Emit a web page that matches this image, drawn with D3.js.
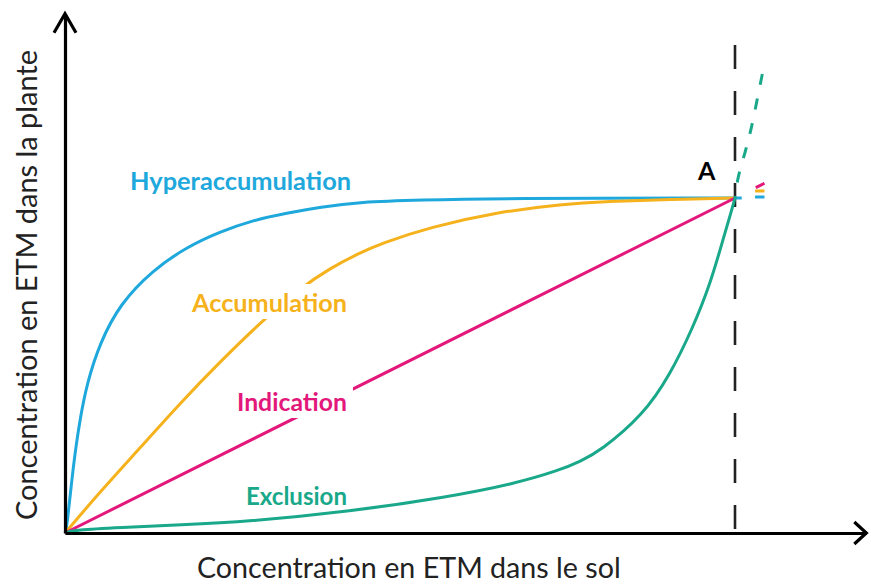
<!DOCTYPE html>
<html>
<head>
<meta charset="utf-8">
<script src="https://cdn.jsdelivr.net/npm/d3@7"></script>
<style>
  body { margin: 0; background: #fff; }
  svg { display: block; }
</style>
</head>
<body>
<svg id="chart"></svg>
<script>
// === data (x,y in % of point A) === //

var hyperPts = [[0,0],[0.3,1.8],[1.2,19.7],[2.2,33.7],[3.3,44.8],[5.2,56.7],[8.2,68.4],[13.1,78.5],[18.2,85.4],[23.1,89.9],[28.1,93.4],[33.1,95.5],[38.1,97.3],[44,98.8],[53,99.4],[64.9,99.9],[100,100],[101,100]]
var accuPts = [[0,0],[5.2,12.2],[11.2,25.4],[17.2,38.8],[23.1,51],[29.1,62.7],[35.1,73.1],[39.6,79.1],[44,83.6],[47,86.3],[54.5,91.3],[64.5,95.8],[74.3,98.2],[80.9,99],[90.3,99.6],[100,100]]
var indicPts = [[0,0],[100,100]]
var exclPts = [[0,0],[1.5,0.9],[8.2,1.6],[17.2,2.4],[27.2,3.4],[42.1,6.3],[57,10.7],[66.9,14.6],[73.9,18.8],[76.9,21.4],[79.9,24.5],[86.3,35.2],[90.3,47.2],[93.7,61.2],[96.3,74.3],[98.2,87.5],[99.6,97],[100,100]]
var exclExt = [[100,100],[100.4,106.3],[101.5,113.4],[102.5,121.2],[103.3,129.3],[104.2,138.2]]

var stubPink = [[103.1,103.1],[104.4,104.4]]
var stubOrange = [[103,102.1],[104.4,102.1]]
var stubBlue = [[103,100.3],[104.4,100.3]]

var seriesNames = ["Hyperaccumulation", "Accumulation", "Indication", "Exclusion"]
var seriesColors = ["#1ea8dc", "#f6b21c", "#e2197b", "#19a88a"]

var xLabel = "Concentration en ETM dans le sol"
var yLabel = "Concentration en ETM dans la plante"
var pointLabel = "A"

var xMax = 119.6
var yMax = 155
var limitTop = 145.7

// === set up canvas === //

var width = 871
var height = 584

var svg = d3.select("#chart").attr("width", width).attr("height", height)

var x = d3.scaleLinear().domain([0, 100]).range([65, 735])
var y = d3.scaleLinear().domain([0, 100]).range([533, 198])

var line = d3.line()
  .x(function(d) { return x(d[0]) })
  .y(function(d) { return y(d[1]) })
  .curve(d3.curveBasis)

var straight = d3.line()
  .x(function(d) { return x(d[0]) })
  .y(function(d) { return y(d[1]) })

// fit a text element to a given width by changing its font size
function fitWidth(t, target) {
  var fs = parseFloat(t.attr("font-size"))
  var len = t.node().getComputedTextLength()
  t.attr("font-size", (fs * target / len).toFixed(2))
}

// dashed limit line
svg.append("line")
  .attr("x1", x(100)).attr("x2", x(100))
  .attr("y1", y(limitTop)).attr("y2", y(0))
  .attr("stroke", "#222")
  .attr("stroke-width", 2.6)
  .attr("stroke-dasharray", "24,22")

// curves
var curves = [hyperPts, accuPts, indicPts, exclPts]
curves.forEach(function(pts, i) {
  svg.append("path")
    .attr("d", line(pts))
    .attr("fill", "none")
    .attr("stroke", seriesColors[i])
    .attr("stroke-width", 3)
})

svg.append("path")
  .attr("d", line(exclExt))
  .attr("fill", "none")
  .attr("stroke", seriesColors[3])
  .attr("stroke-width", 3)
  .attr("stroke-dasharray", "11,14")
  .attr("stroke-dashoffset", 9)

var stubs = [[stubBlue, 0], [stubOrange, 1], [stubPink, 2]]
stubs.forEach(function(s) {
  svg.append("path")
    .attr("d", straight(s[0]))
    .attr("stroke", seriesColors[s[1]])
    .attr("stroke-width", 3)
})

// axes
var xAxisScale = x.copy().domain([0, xMax]).range([x(0), x(xMax)])
var yAxisScale = y.copy().domain([0, yMax]).range([y(0), y(yMax)])

var gx = svg.append("g")
  .attr("transform", "translate(0," + y(0) + ")")
  .call(d3.axisBottom(xAxisScale).tickValues([]).tickSizeOuter(0))
var gy = svg.append("g")
  .attr("transform", "translate(" + x(0) + ",0)")
  .call(d3.axisLeft(yAxisScale).tickValues([]).tickSizeOuter(0))

;[gx, gy].forEach(function(g) {
  g.select(".domain").attr("stroke", "#000").attr("stroke-width", 3.2)
})

var arrowY = [[x(0) - 11, y(yMax) + 19], [x(0), y(yMax)], [x(0) + 11, y(yMax) + 19]]
var arrowX = [[x(xMax) - 12, y(0) - 11], [x(xMax), y(0)], [x(xMax) - 12, y(0) + 11]]
;[arrowX, arrowY].forEach(function(a) {
  svg.append("path")
    .attr("d", d3.line()(a))
    .attr("fill", "none")
    .attr("stroke", "#000")
    .attr("stroke-width", 3.2)
    .attr("stroke-linejoin", "miter")
})

// curve labels
var labelPos = [
  { x: 130, base: 190, w: 221, cut: false },
  { x: 192, base: 312, w: 155, cut: true },
  { x: 237, base: 411, w: 110, cut: true },
  { x: 246, base: 505, w: 101, cut: false }
]

seriesNames.forEach(function(name, i) {
  var p = labelPos[i]
  var g = svg.append("g")
  var t = g.append("text")
    .attr("x", p.x).attr("y", p.base)
    .attr("font-family", "Lato, 'Open Sans', sans-serif")
    .attr("font-weight", "bold")
    .attr("font-size", 20)
    .attr("fill", seriesColors[i])
    .text(name)
  fitWidth(t, p.w)
  if (p.cut) {
    var b = t.node().getBBox()
    g.insert("rect", "text")
      .attr("x", b.x - 6).attr("y", b.y - 3)
      .attr("width", b.width + 12).attr("height", b.height + 5)
      .attr("fill", "#fff")
  }
})

svg.append("text")
  .attr("x", 698).attr("y", 180)
  .attr("font-family", "Lato, 'Open Sans', sans-serif")
  .attr("font-weight", "bold")
  .attr("font-size", 25)
  .attr("fill", "#000")
  .text(pointLabel)

// axis titles
var xt = svg.append("text")
  .attr("x", 197).attr("y", 578)
  .attr("font-family", "Lato, 'Open Sans', sans-serif")
  .attr("font-size", 26)
  .attr("fill", "#222")
  .text(xLabel)
fitWidth(xt, 424)

var yt = svg.append("text")
  .attr("transform", "translate(37,285) rotate(-90)")
  .attr("text-anchor", "middle")
  .attr("font-family", "Lato, 'Open Sans', sans-serif")
  .attr("font-size", 26)
  .attr("fill", "#222")
  .text(yLabel)
fitWidth(yt, 470)
</script>
</body>
</html>
